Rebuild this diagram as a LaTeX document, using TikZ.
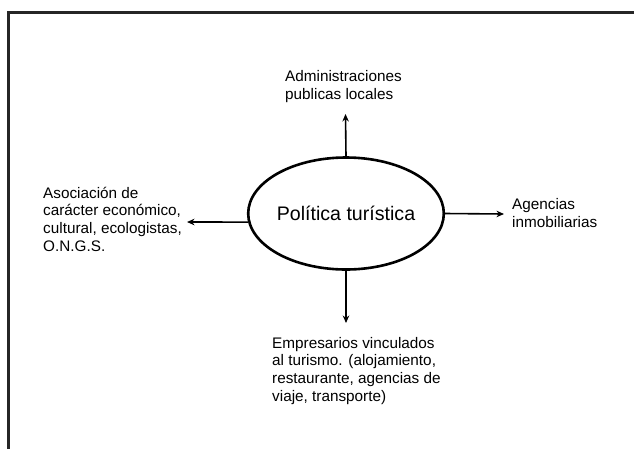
\documentclass[tikz,border=0pt]{standalone}
\usepackage{fontspec}
\setmainfont{Liberation Sans}
\usetikzlibrary{arrows.meta,shapes.geometric}
\begin{document}
\begin{tikzpicture}[x=1pt,y=-1pt,
  lbl/.style={anchor=base west, inner sep=0pt, align=left,
    font=\fontsize{15.3}{17.8}\selectfont},
  conn/.style={line width=1.6pt, -{Stealth[length=7.5pt,width=6.5pt]}},
  frame/.style={line width=2.6pt, draw=black!85}]
\useasboundingbox (0,0) rectangle (634,448);
\clip (0,0) rectangle (634,448);
\draw[frame] (8.5,12.5) rectangle (660,470);
\node[draw, line width=2.6pt, ellipse, minimum width=176pt, minimum height=112pt, inner sep=0pt,
  font=\fontsize{19.6}{22}\selectfont] (e) at (346,213.5) {Política turística};
\node[lbl] (top) at (285,99.5) {Administraciones\\publicas locales};
\node[lbl] (left) at (43,251.5) {Asociación de\\carácter económico,\\cultural, ecologistas,\\O.N.G.S.};
\node[lbl] (right) at (512,227) {Agencias\\inmobiliarias};
\node[lbl] (bot) at (272,401.5) {Empresarios vinculados\\al turismo. (alojamiento,\\restaurante, agencias de\\viaje, transporte)};
\coordinate (ct) at (345.5,114);
\coordinate (cl) at (187,222);
\coordinate (cr) at (504,214);
\coordinate (cb) at (346,323);
\draw[conn] (e.north) -- (ct);
\draw[conn] (e.185.5) -- (cl);
\draw[conn] (e.east) -- (cr);
\draw[conn] (e.south) -- (cb);
\end{tikzpicture}
\end{document}
